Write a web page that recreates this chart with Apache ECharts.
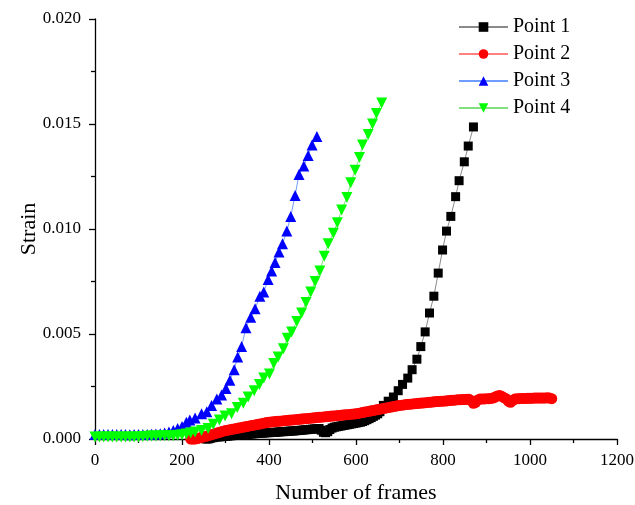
<!DOCTYPE html>
<html><head><meta charset="utf-8">
<script src="https://cdn.jsdelivr.net/npm/echarts@6/dist/echarts.min.js"></script>
<style>html,body{margin:0;padding:0;background:#fff}#c{width:635px;height:505px}</style>
</head><body><div id="c"></div>
<script>
// Axis ticks
var xTicks = [0, 200, 400, 600, 800, 1000, 1200];
var yTicks = [0.000, 0.005, 0.010, 0.015, 0.020];
var seriesNames = ['Point 1', 'Point 2', 'Point 3', 'Point 4'];

// Point 1: dense low part sampled every 5 frames from frame 255
var p1DenseStart = 255, p1DenseStep = 5;
var p1DenseValues = [
0, 0, 0.00003, 0.00006, 0.00008, 0.0001, 0.0001, 0.00011, 0.00012, 0.00013,
0.00014, 0.00015, 0.00016, 0.00017, 0.00018, 0.00019, 0.0002, 0.0002, 0.00021, 0.00022, 0.00023, 0.00024, 0.00025, 0.00026, 0.00027, 0.00028, 0.00028, 0.00029, 0.0003, 0.0003,
0.00031, 0.00031, 0.00032, 0.00033, 0.00034, 0.00035, 0.00035, 0.00036, 0.00037, 0.00038, 0.00038, 0.00039, 0.0004, 0.00041, 0.00042, 0.00043, 0.00044, 0.00045, 0.00046, 0.00047,
0.00048, 0.00049, 0.0005, 0.00042, 0.00032, 0.00030, 0.00035, 0.00045, 0.00052, 0.00056, 0.00058, 0.0006, 0.00062, 0.00064, 0.00066, 0.00068, 0.0007, 0.00072, 0.00074, 0.00076,
0.00078, 0.0008, 0.00083, 0.00087, 0.00092, 0.00097, 0.00102, 0.00108, 0.00114, 0.0012, 0.0013
];
var p1Frames = [663, 674, 686, 697, 707, 719, 729, 740, 749, 759, 769, 779, 789, 799, 808, 818, 829, 837, 849, 858, 870];
var p1Values = [0.0016, 0.0018, 0.0020, 0.0023, 0.0026, 0.0029, 0.0033, 0.0038, 0.0044, 0.0051, 0.0060, 0.0068, 0.0079, 0.0090, 0.0099, 0.0106, 0.01154, 0.0123, 0.0132, 0.01395, 0.01486];

// Point 2: sampled every 5 frames from frame 220
var p2Start = 220, p2Step = 5;
var p2Values = [
0.00000, 0.00000,
0.00000, 0.00002, 0.00005, 0.00008, 0.00010, 0.00013, 0.00016, 0.00019, 0.00022, 0.00025, 0.00028, 0.00031, 0.00034, 0.00037,
0.00040, 0.00042, 0.00044, 0.00046, 0.00048, 0.00050, 0.00052, 0.00054, 0.00056, 0.00058, 0.00060, 0.00062, 0.00064, 0.00066, 0.00068, 0.00070, 0.00072, 0.00074, 0.00076, 0.00078,
0.00080, 0.00081, 0.00082, 0.00083, 0.00084, 0.00085, 0.00086, 0.00087, 0.00088, 0.00089, 0.00090, 0.00091, 0.00092, 0.00093, 0.00094, 0.00095, 0.00096, 0.00097, 0.00098, 0.00099,
0.00100, 0.00101, 0.00102, 0.00103, 0.00104, 0.00105, 0.00106, 0.00107, 0.00108, 0.00109, 0.00110, 0.00111, 0.00112, 0.00113, 0.00114, 0.00115, 0.00116, 0.00117, 0.00118, 0.00119,
0.00120, 0.00122, 0.00124, 0.00126, 0.00128, 0.00130, 0.00132, 0.00134, 0.00136, 0.00138, 0.00140, 0.00142, 0.00144, 0.00146, 0.00148, 0.00150, 0.00152, 0.00154, 0.00156, 0.00158,
0.00160, 0.00161, 0.00162, 0.00164, 0.00165, 0.00166, 0.00167, 0.00168, 0.00169, 0.00170, 0.00171, 0.00172, 0.00173, 0.00174, 0.00175, 0.00176, 0.00177, 0.00178, 0.00179, 0.00180,
0.00180, 0.00181, 0.00182, 0.00183, 0.00184, 0.00185, 0.00186, 0.00187, 0.00187, 0.00188, 0.00188, 0.00189, 0.00189, 0.00182, 0.00170, 0.00175, 0.00186, 0.00190, 0.00191, 0.00191,
0.00192, 0.00192, 0.00193, 0.00195, 0.00200, 0.00205, 0.00207, 0.00203, 0.00197, 0.00192, 0.00180, 0.00175, 0.00183, 0.00190, 0.00192, 0.00192, 0.00193, 0.00193, 0.00193, 0.00194,
0.00194, 0.00194, 0.00195, 0.00195, 0.00195, 0.00195, 0.00195, 0.00195, 0.00196, 0.00195, 0.00192
];

// Point 3
var p3Frames = [0,10,20,30,40,50,60,70,80,90,100,110,120,130,140,150,160,170,180,190,200,210,218,230,245,257,268,280,291,301,310,320,328,337,347,358,368,379,388,398,406,414,423,431,441,450,460,469,480,490,499,510];
var p3Values = [0.00022,0.00022,0.00021,0.00022,0.00021,0.00021,0.00022,0.00021,0.00020,0.00021,0.00021,0.00022,0.00022,0.00023,0.00024,0.00025,
0.00028,0.00033,0.0004,0.0005,0.0006,0.0008,
0.0009,0.0010,0.0012,0.0013,0.0016,0.0019,0.0021,0.0024,0.0028,0.0033,
0.0039,0.0044,0.0053,0.0058,0.0062,0.0068,0.0070,0.0076,0.0080,0.0084,
0.0089,0.0093,0.0099,0.0106,0.0116,0.0126,0.0130,0.0135,0.0140,0.0144];

// Point 4
var p4Frames = [0,10,20,30,40,50,60,70,80,90,100,110,120,130,140,150,160,170,180,190,200,210,220,230,
245,260,272,286,299,314,327,341,352,366,378,388,401,411,421,433,442,452,464,475,485,496,506,517,527,536,548,557,567,579,588,598,608,615,628,638,647,659];
var p4Values = [0.0001,0.0001,0.0001,0.0001,0.0001,0.0001,0.0001,0.0001,0.0001,0.0001,0.0001,
0.00012,0.00013,0.00014,0.00014,0.00015,0.00015,0.00016,0.00016,0.00018,0.0002,0.00024,0.00028,0.00033,
0.0004,0.0005,0.0007,0.0009,0.0011,0.0012,0.0015,0.0017,0.0020,0.0023,0.0026,0.0029,0.0031,0.0036,0.0039,0.0043,0.0048,0.0051,0.0056,0.0060,0.0065,0.0070,0.0075,0.0080,0.0087,0.0093,0.0098,0.0103,0.0109,0.0115,0.0122,0.0128,0.0134,0.0140,0.0145,0.0150,0.0155,0.0160];

function pairs(frames, values){ return frames.map(function(f,i){ return [f, values[i]]; }); }
function seqPairs(start, step, values){ return values.map(function(v,i){ return [start + i*step, v]; }); }

var p1Data = seqPairs(p1DenseStart, p1DenseStep, p1DenseValues).concat(pairs(p1Frames, p1Values));
var p2Data = seqPairs(p2Start, p2Step, p2Values);
var p3Data = pairs(p3Frames, p3Values);
var p4Data = pairs(p4Frames, p4Values);

var FONT = 'Liberation Serif';
var downTri = 'path://M0,0 L10,0 L5,9 Z';

function mk(name, data, symbol, size, color, lineColor, z){
  return {
    name: name, type: 'line', data: data, symbol: symbol, symbolSize: size,
    showSymbol: true, showAllSymbol: true,
    itemStyle: {color: color, borderWidth: 0},
    lineStyle: {color: lineColor, width: 1},
    z: z, animation: false, emphasis: {disabled: true}
  };
}

var chart = echarts.init(document.getElementById('c'), null, {renderer: 'canvas'});
chart.setOption({
  backgroundColor: '#fff',
  animation: false,
  grid: {left: 95, right: 18, top: 19, bottom: 66, containLabel: false, outerBoundsMode: 'none'},
  legend: {
    orient: 'vertical', left: 453, top: 12, itemWidth: 49, itemHeight: 12, itemGap: 7,
    textStyle: {fontFamily: FONT, fontSize: 20, color: '#000'},
    data: seriesNames
  },
  xAxis: {
    type: 'value', min: xTicks[0], max: xTicks[xTicks.length-1], interval: 200,
    name: 'Number of frames', nameLocation: 'middle', nameGap: 43, nameMoveOverlap: false,
    nameTextStyle: {fontFamily: FONT, fontSize: 22, color: '#000'},
    axisLine: {show: true, lineStyle: {color: '#000', width: 1.3}},
    axisTick: {show: true, inside: false, length: 6, lineStyle: {color: '#000', width: 1.3}},
    minorTick: {show: true, splitNumber: 2, length: 4, lineStyle: {color: '#000', width: 1.3}},
    axisLabel: {fontFamily: FONT, fontSize: 17, color: '#000', margin: 13,
      formatter: function(v){ return String(v); }},
    splitLine: {show: false}
  },
  yAxis: {
    type: 'value', min: yTicks[0], max: yTicks[yTicks.length-1], interval: 0.005,
    name: 'Strain', nameLocation: 'middle', nameGap: 55, nameMoveOverlap: false,
    nameTextStyle: {fontFamily: FONT, fontSize: 22, color: '#000'},
    axisLine: {show: true, lineStyle: {color: '#000', width: 1.3}},
    axisTick: {show: true, inside: false, length: 6, lineStyle: {color: '#000', width: 1.3}},
    minorTick: {show: true, splitNumber: 2, length: 4, lineStyle: {color: '#000', width: 1.3}},
    axisLabel: {fontFamily: FONT, fontSize: 17, color: '#000', margin: 14,
      formatter: function(v){ return v.toFixed(3); }},
    splitLine: {show: false}
  },
  series: [
    mk(seriesNames[0], p1Data, 'rect', 9, '#000000', '#8a8a8a', 2),
    mk(seriesNames[1], p2Data, 'circle', 11, '#ff0000', '#ff8080', 3),
    mk(seriesNames[2], p3Data, 'triangle', 11, '#0000ff', '#6f9cff', 4),
    mk(seriesNames[3], p4Data, downTri, 11, '#00ff00', '#80e080', 5)
  ]
});
</script></body></html>
